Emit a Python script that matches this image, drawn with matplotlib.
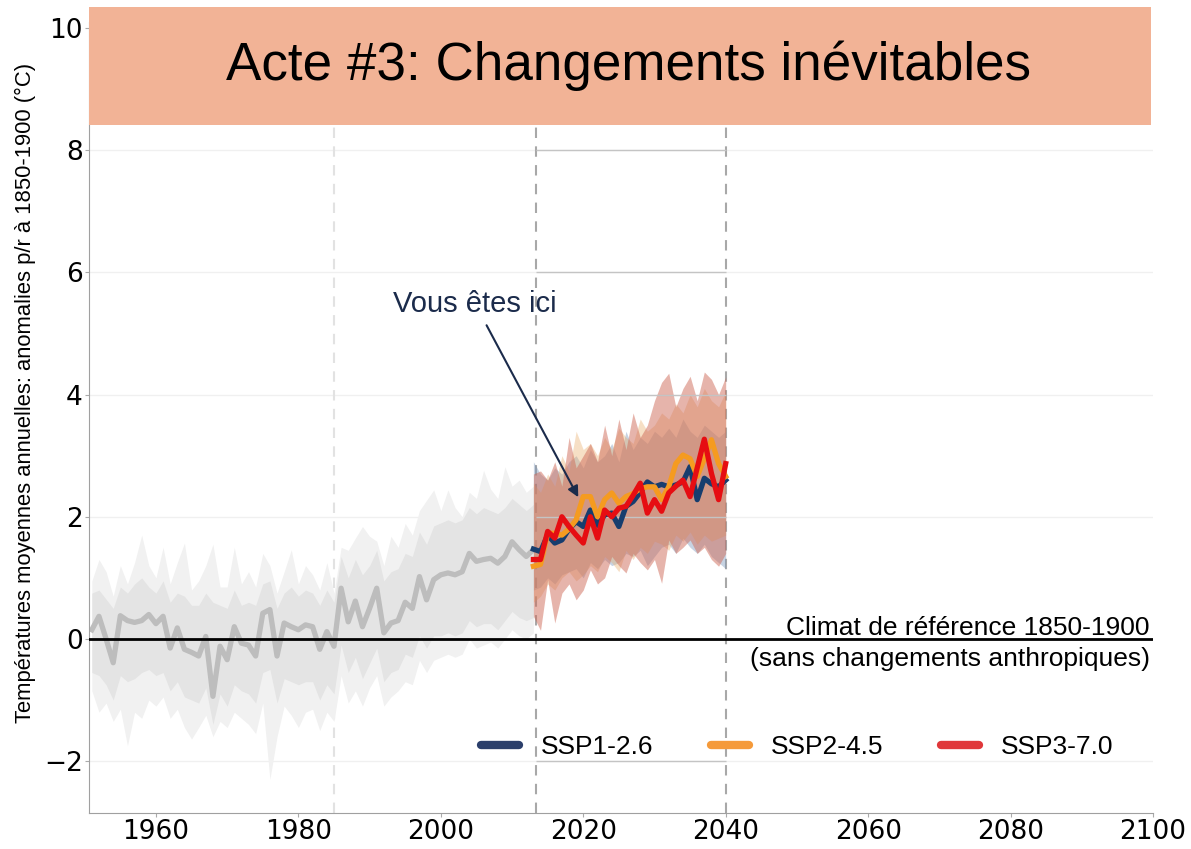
import numpy as np
import matplotlib
matplotlib.use('Agg')
import matplotlib.pyplot as plt
from matplotlib.patches import Rectangle
from matplotlib.lines import Line2D

# historical period (grey)
hist_years = list(range(1951, 2014))
hist_mean = [0.15, 0.37, 0.00, -0.39, 0.38, 0.30, 0.27, 0.30, 0.40, 0.25,
             0.37, -0.15, 0.18, -0.17, -0.22, -0.28, 0.04, -0.94, -0.12, -0.34,
             0.20, -0.07, -0.10, -0.28, 0.42, 0.48, -0.28, 0.26, 0.20, 0.15,
             0.23, 0.20, -0.17, 0.12, -0.12, 0.83, 0.28, 0.62, 0.20, 0.50,
             0.83, 0.10, 0.26, 0.30, 0.60, 0.50, 1.02, 0.64, 0.97, 1.05,
             1.08, 1.05, 1.10, 1.40, 1.27, 1.30, 1.32, 1.24, 1.35, 1.59,
             1.46, 1.35, 1.46]
hist_outer_hi = [0.95, 1.30, 1.10, 0.70, 1.20, 0.90, 1.25, 1.70, 1.20, 1.00,
                 1.50, 0.90, 1.25, 1.57, 0.80, 0.95, 1.20, 1.55, 0.85, 0.85,
                 1.50, 0.90, 1.10, 0.85, 1.40, 1.20, 0.75, 1.10, 1.46, 0.90,
                 1.20, 1.05, 0.80, 1.25, 0.75, 1.50, 1.45, 1.65, 1.84, 1.68,
                 1.60, 1.20, 1.68, 1.50, 1.89, 1.70, 2.10, 2.27, 2.44, 2.10,
                 2.44, 2.15, 2.00, 2.40, 2.30, 2.76, 2.45, 2.30, 2.82, 2.50,
                 2.60, 2.40, 2.50]
hist_inner_hi = [0.75, 0.80, 0.65, 0.50, 0.85, 0.75, 0.90, 1.00, 0.85, 0.75,
                 0.95, 0.60, 0.75, 0.70, 0.55, 0.55, 0.75, 0.60, 0.55, 0.50,
                 0.80, 0.55, 0.60, 0.55, 0.90, 0.95, 0.50, 0.75, 0.85, 0.70,
                 0.80, 0.75, 0.55, 0.80, 0.60, 1.35, 1.00, 1.30, 1.05, 1.20,
                 1.45, 0.95, 1.10, 1.15, 1.40, 1.35, 1.75, 1.55, 1.85, 1.90,
                 1.95, 1.90, 1.95, 2.15, 2.05, 2.15, 2.10, 2.05, 2.15, 2.30,
                 2.20, 2.10, 2.20]
hist_inner_lo = [-0.55, -0.60, -0.75, -1.00, -0.60, -0.70, -0.65, -0.55, -0.50, -0.60,
                 -0.55, -0.85, -0.70, -0.95, -1.00, -1.05, -0.80, -1.40, -0.90, -1.10,
                 -0.75, -0.85, -0.90, -1.05, -0.55, -0.50, -1.05, -0.65, -0.70, -0.75,
                 -0.70, -0.70, -1.00, -0.75, -0.90, -0.10, -0.55, -0.30, -0.65, -0.40,
                 -0.15, -0.70, -0.55, -0.50, -0.25, -0.30, 0.05, -0.15, 0.05, 0.05,
                 0.10, 0.05, 0.10, 0.30, 0.20, 0.25, 0.25, 0.15, 0.30, 0.45,
                 0.35, 0.30, 0.35]
hist_outer_lo = [-0.85, -1.20, -1.05, -1.35, -1.15, -1.75, -1.20, -1.30, -1.00, -1.10,
                 -0.95, -1.30, -1.15, -1.45, -1.64, -1.45, -1.25, -1.60, -1.35, -1.45,
                 -1.20, -1.30, -1.40, -1.55, -1.05, -2.30, -1.60, -1.10, -1.25, -1.45,
                 -1.20, -1.15, -1.50, -1.20, -1.35, -0.60, -1.05, -0.85, -1.10, -0.80,
                 -0.60, -1.10, -0.95, -0.85, -0.70, -0.75, -0.35, -0.55, -0.35, -0.30,
                 -0.25, -0.30, -0.25, 0.00, -0.15, -0.10, -0.05, -0.15, 0.00, 0.15,
                 0.05, 0.00, 0.10]

# projections 2013-2040
proj_years = list(range(2013, 2041))
ssp126 = [1.47, 1.43, 1.70, 1.57, 1.62, 1.80, 1.92, 1.84, 2.11, 1.86,
          2.03, 2.06, 1.84, 2.17, 2.25, 2.40, 2.57, 2.49, 2.53, 2.49,
          2.52, 2.57, 2.82, 2.28, 2.63, 2.54, 2.49, 2.60]
ssp245 = [1.19, 1.22, 1.73, 1.73, 1.70, 1.80, 1.95, 2.33, 2.33, 2.00,
          2.28, 2.39, 2.22, 2.33, 2.38, 2.46, 2.49, 2.49, 2.28, 2.49,
          2.87, 3.01, 2.95, 2.66, 2.95, 3.26, 2.87, 2.66]
ssp370 = [1.30, 1.30, 1.76, 1.65, 2.00, 1.84, 1.70, 1.57, 2.00, 1.65,
          2.11, 2.00, 2.14, 2.17, 2.35, 2.55, 2.06, 2.28, 2.09, 2.39,
          2.50, 2.60, 2.33, 2.80, 3.27, 2.71, 2.28, 2.87]
ssp126_hi = [2.90, 2.70, 2.60, 2.80, 2.70, 2.90, 3.00, 2.80, 3.10, 2.90,
             3.00, 3.20, 2.90, 3.40, 3.10, 3.30, 3.20, 3.40, 3.30, 3.45,
             3.30, 3.60, 3.40, 3.30, 3.50, 3.40, 3.30, 3.40]
ssp126_lo = [0.80, 0.85, 1.00, 0.90, 1.05, 1.10, 1.15, 1.00, 1.25, 1.15,
             1.30, 1.20, 1.25, 1.40, 1.35, 1.45, 1.20, 1.35, 1.50, 1.55,
             1.40, 1.65, 1.50, 1.40, 1.55, 1.35, 1.25, 1.15]
ssp245_hi = [2.55, 2.40, 2.70, 2.50, 3.00, 2.75, 3.40, 3.10, 3.20, 3.00,
             3.30, 3.10, 3.45, 3.30, 3.20, 3.60, 3.40, 3.50, 3.70, 3.60,
             3.85, 3.70, 4.00, 3.80, 4.10, 3.90, 3.80, 4.05]
ssp245_lo = [0.60, 0.70, 0.90, 0.80, 1.00, 1.10, 0.95, 1.05, 1.20, 1.10,
             1.35, 1.25, 1.10, 1.45, 1.30, 1.50, 1.40, 1.60, 1.55, 1.45,
             1.70, 1.60, 1.75, 1.55, 1.70, 1.60, 1.65, 1.70]
ssp370_hi = [2.70, 2.75, 2.60, 2.90, 2.50, 3.30, 2.80, 3.00, 3.20, 2.90,
             3.50, 3.00, 3.60, 3.10, 3.70, 3.30, 3.50, 3.90, 4.20, 4.35,
             3.80, 4.10, 4.30, 3.90, 4.37, 4.25, 4.00, 4.29]
ssp370_lo = [0.37, 0.14, 0.97, 0.26, 0.75, 0.90, 0.64, 0.80, 1.13, 0.90,
             1.00, 1.35, 1.20, 1.08, 1.40, 1.25, 1.13, 1.30, 0.91, 1.62,
             1.40, 1.50, 1.62, 1.40, 1.50, 1.30, 1.19, 1.40]

scenario_names = ['SSP1-2.6', 'SSP2-4.5', 'SSP3-7.0']
line_colors = ['#173d6e', '#f59b20', '#e60d12']
band_colors = ['#7592b8', '#eab070', '#cf6a58']
legend_colors = ['#2b3f6b', '#f59a3a', '#e0383a']

x_ticks = [1960, 1980, 2000, 2020, 2040, 2060, 2080, 2100]
y_ticks = [-2, 0, 2, 4, 6, 8, 10]

fig = plt.figure(figsize=(11.91, 8.49), dpi=100)
W, H = 1191, 849
ax = fig.add_axes([89 / W, 1 - 813 / H, (1153 - 89) / W, (813 - 22) / H])
ax.set_xlim(1950.6, 2100)
ax.set_ylim(-2.85, 10.1)

# grid
for y in [-2, 2, 4, 6, 8]:
  ax.axhline(y, color='#f0f0f0', lw=1, zorder=0)
ax.hlines([-2, 2, 4, 6, 8], 2013.3, 2040, color='#c4c4c4', lw=1, zorder=3)

ax.axvline(1985, color='#e2e2e2', lw=1.5, ls=(0, (5, 4)), zorder=1)
ax.axvline(2013.3, color='#a8a8a8', lw=1.5, ls=(0, (5, 4)), zorder=1)
ax.axvline(2040, color='#a8a8a8', lw=1.5, ls=(0, (5, 4)), zorder=1)

# historical
ax.fill_between(hist_years, hist_outer_lo, hist_outer_hi, color='#f1f1f1', lw=0, zorder=1)
ax.fill_between(hist_years, hist_inner_lo, hist_inner_hi, color='#e4e4e4', lw=0, zorder=1)
ax.plot(hist_years, hist_mean, color='#bdbdbd', lw=3.8, zorder=2)

# projections
bands = [(ssp126_lo, ssp126_hi, 0.4), (ssp245_lo, ssp245_hi, 0.4), (ssp370_lo, ssp370_hi, 0.5)]
for (lo, hi, a), c in zip(bands, band_colors):
  ax.fill_between(proj_years, lo, hi, color=c, alpha=a, lw=0, zorder=2)
for vals, c in zip([ssp126, ssp245, ssp370], line_colors):
  ax.plot(proj_years, vals, color=c, lw=3.8, zorder=4)

ax.axhline(0, color='black', lw=2, zorder=5)

ax.set_xticks(x_ticks)
ax.set_yticks(y_ticks)
ax.tick_params(labelsize=19, length=3, color='#aaaaaa', pad=1.5)
for s in ['top', 'right']:
  ax.spines[s].set_visible(False)
for s in ['left', 'bottom']:
  ax.spines[s].set_color('#a0a0a0')

# annotation
ax.annotate('Vous êtes ici', xy=(2019.3, 2.32), xytext=(2004.8, 5.49),
            ha='center', va='center', fontsize=21, family='Liberation Sans',
            color='#1b2b4b',
            arrowprops=dict(arrowstyle='-|>', color='#1b2b4b', lw=1.5,
                            mutation_scale=16, shrinkA=4, shrinkB=0))

fig.text(1150 / W, 1 - 635 / H, 'Climat de référence 1850-1900', ha='right',
         va='baseline', fontsize=19, family='Liberation Sans')
fig.text(1150 / W, 1 - 666 / H, '(sans changements anthropiques)', ha='right',
         va='baseline', fontsize=19, family='Liberation Sans')

fig.text(0.021, 1 - 393 / H,
         'Températures moyennes annuelles: anomalies p/r à 1850-1900 (°C)',
         rotation=90, ha='center', va='center', fontsize=15.8,
         family=['Liberation Sans', 'DejaVu Sans'])

# title box
fig.add_artist(Rectangle((89 / W, 1 - 125 / H), (1151 - 89) / W, (125 - 7) / H,
                         transform=fig.transFigure, facecolor='#f2b396',
                         edgecolor='none', zorder=10))
fig.text(629 / W, 1 - 80 / H, 'Acte #3: Changements inévitables', ha='center',
         va='baseline', fontsize=38.2, family='Liberation Sans', zorder=11)

handles = [Line2D([], [], color=c, lw=6, solid_capstyle='round') for c in legend_colors]
fig.legend(handles, scenario_names, loc='center', bbox_to_anchor=(797 / W, 1 - 747 / H),
           ncol=3, frameon=False, prop={'family': 'Liberation Sans', 'size': 19},
           handlelength=1.45, handletextpad=0.8, columnspacing=2.2)

fig.savefig('out.png', dpi=100)
